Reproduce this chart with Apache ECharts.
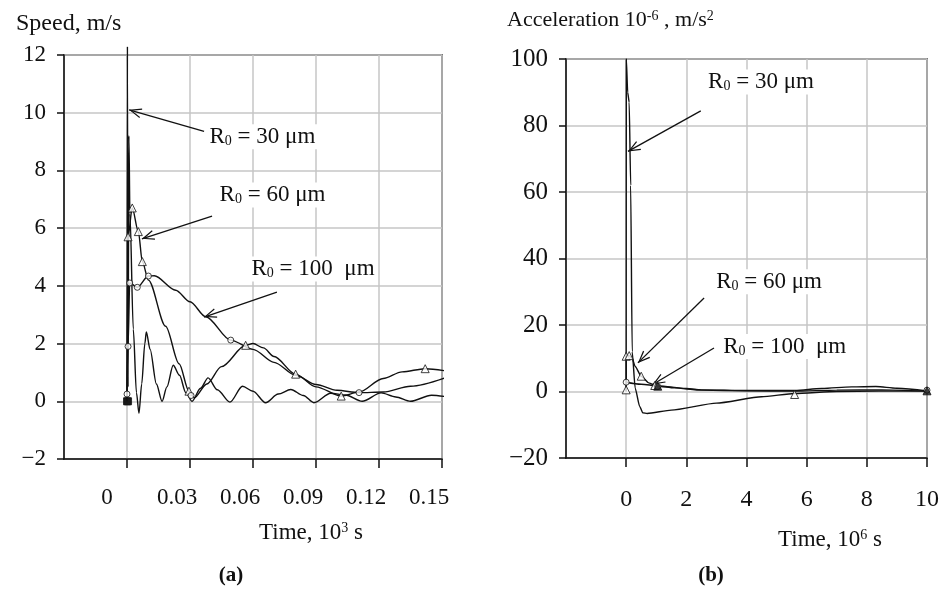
<!DOCTYPE html>
<html lang="en">
  <head>
    <meta charset="utf-8" />
    <title>Speed and acceleration</title>
    <script src="https://cdn.jsdelivr.net/npm/echarts@6/dist/echarts.min.js"></script>
    <style>
      html, body { margin: 0; padding: 0; background: #fff; }
      #main { width: 945px; height: 608px; }
    </style>
  </head>
  <body>
    <div id="main"></div>
    <script>
      // (a) speed, m/s against time, 10^3 s
      var speed30 = [[0, 0], [0.0002, 12.3], [0.0005, 0.5], [0.0009, 9.2], [0.0014, 6.5], [0.003, 2.5],
        [0.0045, 0.3], [0.0057, -0.42], [0.007, 0.6], [0.0085, 2.0], [0.0092, 2.4], [0.011, 1.8],
        [0.014, 0.6], [0.0167, 0], [0.019, 0.5], [0.022, 1.25], [0.025, 0.9], [0.028, 0.3], [0.031, 0],
        [0.035, 0.45], [0.0386, 0.81], [0.043, 0.4], [0.049, -0.03], [0.055, 0.52], [0.06, 0.35],
        [0.066, -0.05], [0.072, 0.25], [0.078, 0.41], [0.084, 0.2], [0.089, -0.05], [0.097, 0.28],
        [0.104, 0.22], [0.112, 0], [0.121, 0.29], [0.128, 0.15], [0.135, 0], [0.145, 0.21], [0.153, 0.15]];
      var speed60 = [[0, 0], [0.0005, 5.7], [0.0025, 6.7], [0.0054, 5.88], [0.0073, 4.84], [0.0102, 4.2],
        [0.0184, 2.6], [0.0248, 1.3], [0.0295, 0.35], [0.032, 0.12], [0.038, 0.6], [0.045, 1.2],
        [0.0565, 1.94], [0.06, 2.0], [0.065, 1.85], [0.07, 1.55], [0.0803, 0.94], [0.09, 0.5],
        [0.102, 0.18], [0.1105, 0.32], [0.122, 0.79], [0.131, 1.02], [0.142, 1.13], [0.153, 1.04]];
      var speed100 = [[0, 0.25], [0.0005, 1.9], [0.0013, 4.1], [0.0049, 3.95], [0.0102, 4.34], [0.013, 4.35],
        [0.0232, 3.85], [0.03, 3.45], [0.0375, 2.93], [0.0494, 2.12], [0.06, 1.8], [0.07, 1.35], [0.0803, 0.9],
        [0.09, 0.58], [0.1, 0.38], [0.1105, 0.3], [0.122, 0.32], [0.135, 0.52], [0.153, 0.85]];
      var speedTri = [[0.0005, 5.7], [0.0025, 6.7], [0.0054, 5.88], [0.0073, 4.84], [0.0295, 0.35],
        [0.0565, 1.94], [0.0803, 0.94], [0.102, 0.18], [0.142, 1.13]];
      var speedCirc = [[0, 0.25], [0.0005, 1.9], [0.0013, 4.1], [0.0049, 3.95], [0.0102, 4.34],
        [0.0305, 0.2], [0.0494, 2.12], [0.1105, 0.3]];
      var speedSolid = [[0, 0], [0.0005, 0]];

      // (b) acceleration 10^-6, m/s2 against time, 10^6 s
      var acc30 = [[0, 0], [0.005, 100], [0.05, 90], [0.1, 87], [0.15, 62], [0.2, 12], [0.3, 1],
        [0.45, -4.5], [0.55, -6.4], [0.7, -6.6], [1.5, -5.6], [3, -3.5], [4.5, -1.6], [5.6, -0.6],
        [7, 0], [8.4, 0.1], [10, 0.1]];
      var acc60 = [[0, 0], [0, 10.6], [0.1, 10.8], [0.2, 10], [0.3, 7.5], [0.5, 4.6], [0.75, 2.6],
        [1.05, 1.6], [1.6, 1.1], [2.5, 0.4], [4, 0.2], [5.6, 0.1], [7, 0.4], [8.5, 0.5], [10, 0.1]];
      var acc100 = [[0, 2.8], [0.5, 2.2], [1.05, 1.7], [2, 0.9], [2.5, 0.5], [4, 0.3], [5.6, 0.3],
        [6.5, 0.9], [7.5, 1.4], [8.3, 1.5], [9, 1], [10, 0.2]];
      var accTri = [[0, 0.5], [0, 10.6], [0.1, 10.8], [0.5, 4.6], [0.95, 1.8], [5.6, -0.9]];
      var accCirc = [[0, 2.8], [1.05, 1.5], [10, 0.4]];
      var accSolid = [[1.05, 1.6], [10, 0.2]];

      // annotations: radius, where the text starts, arrow start and tip (data units)
      var notesA = [
        { r: '30', text: [0.0381, 9.17], from: [0.0367, 9.35], to: [0.001, 10.1] },
        { r: '60', text: [0.0429, 7.15], from: [0.0405, 6.42], to: [0.0071, 5.63] },
        { r: '100 ', text: [0.0581, 4.58], from: [0.0714, 3.78], to: [0.0367, 2.92] }
      ];
      var notesB = [
        { r: '30', text: [2.64, 93.1], from: [2.48, 84.4], to: [0.06, 72.2] },
        { r: '60', text: [2.91, 33.0], from: [2.59, 28.1], to: [0.39, 8.6] },
        { r: '100 ', text: [3.14, 13.5], from: [2.92, 13.1], to: [0.88, 2.1] }
      ];

      var FONT = 'Liberation Serif';
      var INK = '#111';
      var GRIDC = '#c6c6c6';
      // open arrow head, tip in the middle of its box so it lands on the end point
      var HEAD = 'path://M0,-12.4L0.01,-12.4L0,-12.4Z M0,0L5,12L3.8,12.4L0,3L-3.8,12.4L-5,12Z';

      var chart = echarts.init(document.getElementById('main'), null, { renderer: 'canvas' });

      function minus(v) {
        return v < 0 ? '\u2212' + Math.abs(v) : String(v);
      }

      function curve(data, gi, smooth) {
        return {
          type: 'line', xAxisIndex: gi, yAxisIndex: gi, data: data,
          showSymbol: false, smooth: smooth, smoothMonotone: 'x', clip: false,
          lineStyle: { color: INK, width: 1.4 }, silent: true
        };
      }

      function marks(data, gi, symbol, size, filled) {
        return {
          type: 'scatter', xAxisIndex: gi, yAxisIndex: gi, data: data,
          symbol: symbol, symbolSize: size, clip: false, silent: true, z: 5,
          itemStyle: { color: filled ? INK : '#fff', borderColor: INK, borderWidth: 1 }
        };
      }

      var richText = {
        r: { fontFamily: FONT, fontSize: 23, color: INK },
        s: { fontFamily: FONT, fontSize: 14, color: INK, verticalAlign: 'bottom' }
      };

      function notes(list, gi) {
        return {
          type: 'scatter', xAxisIndex: gi, yAxisIndex: gi, data: [], silent: true, z: 6,
          markLine: {
            silent: true, animation: false,
            symbol: ['none', HEAD], symbolSize: [10, 25],
            lineStyle: { color: INK, width: 1.3, type: 'solid' },
            itemStyle: { color: INK },
            label: { show: false },
            data: list.map(function (n) { return [{ coord: n.from }, { coord: n.to }]; })
          },
          markPoint: {
            silent: true, animation: false, symbol: 'circle', symbolSize: 1,
            itemStyle: { color: 'rgba(0,0,0,0)' },
            label: {
              show: true, position: 'right', distance: 0,
              backgroundColor: '#fff', padding: [1, 2],
              formatter: function (p) { return '{r|R}{s|0}{r| = ' + p.name + ' \u03bcm}'; },
              rich: richText
            },
            data: list.map(function (n) { return { name: n.r, coord: n.text }; })
          }
        };
      }

      function xAxisBase(gi, min, max, step, fontSize, margin, fmt, pad) {
        return {
          gridIndex: gi, type: 'value', min: min, max: max, interval: step,
          axisLine: { show: true, onZero: false, lineStyle: { color: INK, width: 1.5 } },
          axisTick: { show: true, length: 9, lineStyle: { color: INK, width: 1.5 } },
          splitLine: { show: true, lineStyle: { color: GRIDC, width: 1.5 } },
          axisLabel: {
            showMinLabel: false, fontFamily: FONT, fontSize: fontSize, color: INK,
            margin: margin, formatter: fmt, padding: pad,
            rich: { z: { fontFamily: FONT, fontSize: fontSize, color: INK, padding: [0, 14, 0, 0] } }
          }
        };
      }

      function yAxisBase(gi, min, max, step, fontSize, margin) {
        return {
          gridIndex: gi, type: 'value', min: min, max: max, interval: step,
          axisLine: { show: true, onZero: false, lineStyle: { color: INK, width: 1.5 } },
          axisTick: { show: true, length: 7, lineStyle: { color: INK, width: 1.5 } },
          splitLine: { show: true, lineStyle: { color: GRIDC, width: 1.5 } },
          axisLabel: { fontFamily: FONT, fontSize: fontSize, color: INK, margin: margin, formatter: minus }
        };
      }

      var option = {
        animation: false,
        backgroundColor: '#fff',
        grid: [
          { left: 64, top: 55, width: 378, height: 404, show: true, borderColor: INK, borderWidth: 1.5,
            containLabel: false, outerBoundsMode: 'none' },
          { left: 566, top: 59, width: 361, height: 399, show: true, borderColor: INK, borderWidth: 1.5,
            containLabel: false, outerBoundsMode: 'none' }
        ],
        xAxis: [
          xAxisBase(0, -0.03, 0.15, 0.03, 23, 27, function (v) {
            return Math.abs(v) < 1e-9 ? '{z|0}' : v.toFixed(2);
          }, [0, 26, 0, 0]),
          xAxisBase(1, -2, 10, 2, 24, 30, function (v) { return String(v); }, 0)
        ],
        yAxis: [
          yAxisBase(0, -2, 12, 2, 23, 18),
          yAxisBase(1, -20, 100, 20, 25, 18)
        ],
        series: [
          curve(speed30, 0, 0.3),
          curve(speed60, 0, 0.3),
          curve(speed100, 0, 0.3),
          marks(speedTri, 0, 'triangle', 8, false),
          marks(speedCirc, 0, 'circle', 6, false),
          marks(speedSolid, 0, 'rect', 7, true),
          notes(notesA, 0),
          curve(acc30, 1, 0.2),
          curve(acc60, 1, 0.2),
          curve(acc100, 1, 0.3),
          marks(accTri, 1, 'triangle', 8, false),
          marks(accCirc, 1, 'circle', 6, false),
          marks(accSolid, 1, 'triangle', 8, true),
          notes(notesB, 1)
        ],
        graphic: [
          { type: 'text', left: 16, top: 12,
            style: { text: 'Speed, m/s', font: '24px "' + FONT + '"', fill: INK } },
          { type: 'text', left: 507, top: 9,
            style: {
              text: 'Acceleration 10{sup|-6} , m/s{sup|2}', font: '22px "' + FONT + '"', fill: INK,
              rich: { sup: { fontFamily: FONT, fontSize: 14, fill: INK, verticalAlign: 'top' } }
            } },
          { type: 'text', x: 311, y: 533,
            style: {
              text: 'Time, 10{sup|3} s', font: '23px "' + FONT + '"', fill: INK,
              align: 'center', verticalAlign: 'middle',
              rich: { sup: { fontFamily: FONT, fontSize: 14, fill: INK, verticalAlign: 'top' } }
            } },
          { type: 'text', x: 830, y: 540,
            style: {
              text: 'Time, 10{sup|6} s', font: '23px "' + FONT + '"', fill: INK,
              align: 'center', verticalAlign: 'middle',
              rich: { sup: { fontFamily: FONT, fontSize: 14, fill: INK, verticalAlign: 'top' } }
            } },
          { type: 'text', x: 231, y: 576,
            style: { text: '(a)', font: 'bold 21px "' + FONT + '"', fill: INK, align: 'center', verticalAlign: 'middle' } },
          { type: 'text', x: 711, y: 576,
            style: { text: '(b)', font: 'bold 21px "' + FONT + '"', fill: INK, align: 'center', verticalAlign: 'middle' } }
        ]
      };

      chart.setOption(option);
    </script>
  </body>
</html>
